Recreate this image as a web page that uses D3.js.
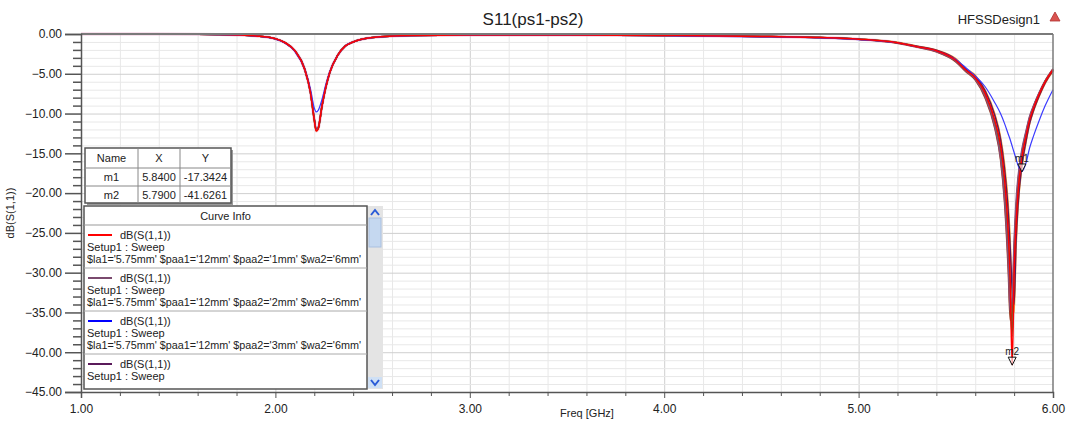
<!DOCTYPE html>
<html>
<head>
  <meta charset="utf-8">
  <script src="https://d3js.org/d3.v7.min.js"></script>
  <style>
    body { margin: 0; background: #fff; }
    text { font-family: "Liberation Sans", Arial, sans-serif; fill: #222; }
  </style>
</head>
<body>
<div id="chart"></div>
<script>

    // frequency points (GHz), shared by all curves
    const freq = [1.0, 1.4, 1.6, 1.7, 1.8, 1.9, 2.0, 2.05, 2.1, 2.15,
        2.18, 2.2, 2.21, 2.22, 2.24, 2.26, 2.28, 2.32, 2.36, 2.4,
        2.5, 2.7, 3.0, 3.5, 4.0, 4.5, 4.8, 5.0, 5.2, 5.3,
        5.4, 5.5, 5.55, 5.6, 5.65, 5.7, 5.73, 5.75, 5.77, 5.78,
        5.79, 5.8, 5.81, 5.82, 5.84, 5.86, 5.88, 5.9, 5.93, 5.96, 6.0]

    // dB(S(1,1)) for each paa2 value
    const sRed = [0, -0.01, -0.03, -0.06, -0.12, -0.25, -0.6, -1.1, -2.1, -4.4,
        -7.3, -10.8, -12.2, -11.9, -9.0, -6.6, -4.8, -2.7, -1.5, -1.0,
        -0.45, -0.2, -0.12, -0.12, -0.18, -0.3, -0.45, -0.65, -1.1, -1.6,
        -2.1, -3.3, -4.5, -5.5, -7.4, -10.8, -14, -18, -25, -31,
        -41.6, -30, -24, -20, -15.5, -13, -10.8, -9.3, -7.5, -6.0, -4.5]
    const sMauve = [0, -0.01, -0.03, -0.06, -0.12, -0.25, -0.6, -1.1, -2.1, -4.4,
        -7.3, -10.7, -12.1, -11.8, -9.0, -6.6, -4.8, -2.7, -1.5, -1.0,
        -0.45, -0.2, -0.12, -0.12, -0.18, -0.3, -0.45, -0.66, -1.1, -1.6,
        -2.2, -3.4, -4.6, -5.7, -7.8, -11.6, -15.5, -20.5, -29, -35,
        -33, -26, -21, -18, -14.5, -12.3, -10.3, -9.0, -7.3, -5.9, -4.4]
    const sBlue = [0, -0.01, -0.04, -0.07, -0.13, -0.27, -0.65, -1.15, -2.2, -4.4,
        -6.9, -9.3, -9.8, -9.6, -8.2, -6.3, -4.7, -2.7, -1.5, -1.0,
        -0.45, -0.22, -0.15, -0.15, -0.22, -0.35, -0.5, -0.7, -1.1, -1.6,
        -2.1, -3.2, -4.2, -5.3, -6.6, -8.6, -10.0, -11.2, -12.6, -13.3,
        -14.1, -14.9, -15.7, -16.5, -17.3, -16.3, -14.3, -12.8, -10.8, -9.0, -7.0]
    const sPurple = [0, -0.01, -0.03, -0.06, -0.12, -0.25, -0.6, -1.1, -2.1, -4.3,
        -7.2, -10.6, -12.0, -11.8, -9.0, -6.6, -4.8, -2.7, -1.5, -1.0,
        -0.45, -0.2, -0.12, -0.12, -0.18, -0.3, -0.45, -0.64, -1.1, -1.55,
        -2.05, -3.2, -4.4, -5.3, -7.1, -10.2, -13.2, -16.8, -22.5, -27,
        -32, -34, -26, -21.5, -16.5, -13.6, -11.2, -9.6, -7.7, -6.1, -4.6]
    const sGreen = [0, -0.01, -0.03, -0.06, -0.12, -0.25, -0.6, -1.1, -2.1, -4.4,
        -7.3, -10.8, -12.1, -11.9, -9.0, -6.6, -4.8, -2.7, -1.5, -1.0,
        -0.45, -0.2, -0.12, -0.12, -0.18, -0.3, -0.45, -0.65, -1.1, -1.6,
        -2.15, -3.35, -4.55, -5.6, -7.6, -11.2, -14.8, -19.3, -27, -33,
        -38, -28, -22.5, -19, -15, -12.7, -10.6, -9.1, -7.4, -5.9, -4.5]
    const sOrange = [0, -0.01, -0.03, -0.06, -0.12, -0.25, -0.6, -1.1, -2.1, -4.4,
        -7.3, -10.8, -12.2, -11.9, -9.0, -6.6, -4.8, -2.7, -1.5, -1.0,
        -0.45, -0.2, -0.12, -0.12, -0.18, -0.3, -0.45, -0.63, -1.05, -1.5,
        -2.0, -3.1, -4.3, -5.2, -7.0, -10.0, -12.9, -16.2, -21.5, -26,
        -33, -35, -27, -22, -16.8, -13.8, -11.3, -9.7, -7.8, -6.2, -4.7]
    const sBrown = [0, -0.01, -0.03, -0.06, -0.12, -0.25, -0.6, -1.1, -2.1, -4.4,
        -7.3, -10.7, -12.1, -11.9, -9.0, -6.6, -4.8, -2.7, -1.5, -1.0,
        -0.45, -0.2, -0.12, -0.12, -0.18, -0.3, -0.45, -0.67, -1.15, -1.65,
        -2.25, -3.5, -4.7, -5.8, -8.0, -11.8, -15.8, -21, -30, -36,
        -35, -27, -22, -18.5, -14.8, -12.5, -10.5, -9.1, -7.4, -5.9, -4.4]
    const sPink = [0, -0.01, -0.03, -0.06, -0.12, -0.25, -0.6, -1.1, -2.1, -4.4,
        -7.3, -10.8, -12.2, -11.9, -9.0, -6.6, -4.8, -2.7, -1.5, -1.0,
        -0.45, -0.2, -0.12, -0.12, -0.18, -0.3, -0.45, -0.65, -1.1, -1.6,
        -2.15, -3.35, -4.55, -5.55, -7.5, -10.9, -14.3, -18.5, -25.5, -32,
        -37, -31, -24, -20, -15.6, -13.1, -10.8, -9.3, -7.5, -6.0, -4.5]

    const curves = [
        { name: 'pink', values: sPink, color: '#e8aacb', width: 3 },
        { name: 'orange', values: sOrange, color: '#f09a30', width: 1.5 },
        { name: 'brown', values: sBrown, color: '#9a3a1e', width: 1.5 },
        { name: 'green', values: sGreen, color: '#2e8b3a', width: 1.5 },
        { name: 'purple', values: sPurple, color: '#5c1a5c', width: 1.5 },
        { name: 'mauve', values: sMauve, color: '#8a4d79', width: 1.5 },
        { name: 'blue', values: sBlue, color: '#3b3bff', width: 1.2 },
        { name: 'red', values: sRed, color: '#ff0000', width: 1.5 }
    ]

    const xTicks = [1, 2, 3, 4, 5, 6]
    const yTicks = [0, -5, -10, -15, -20, -25, -30, -35, -40, -45]

    // marker table
    const markerRows = [
        ['Name', 'X', 'Y'],
        ['m1', '5.8400', '-17.3424'],
        ['m2', '5.7900', '-41.6261']
    ]
    const markers = [
        { name: 'm1', f: 5.84, db: -17.3424 },
        { name: 'm2', f: 5.79, db: -41.6261 }
    ]

    // curve info entries
    const legendColors = ['#ff0000', '#7a4a6e', '#0000ff', '#5a1a5a']
    const legendParams = [
        "$la1='5.75mm' $paa1='12mm' $paa2='1mm' $wa2='6mm'",
        "$la1='5.75mm' $paa1='12mm' $paa2='2mm' $wa2='6mm'",
        "$la1='5.75mm' $paa1='12mm' $paa2='3mm' $wa2='6mm'",
        null
    ]

    const width = 1068,
        height = 427
    const margin = { top: 34, right: 15, bottom: 35, left: 81 }
    const innerWidth = width - margin.left - margin.right,
        innerHeight = height - margin.top - margin.bottom

    const xScale = d3.scaleLinear().domain([1, 6]).range([0, innerWidth])
    const yScale = d3.scaleLinear().domain([0, -45]).range([0, innerHeight])

    const svg = d3.select('#chart').append('svg')
        .attr('width', width)
        .attr('height', height)

    const g = svg.append('g')
        .attr('transform', `translate(${margin.left}, ${margin.top})`)

    // grid
    g.append('g')
        .call(d3.axisTop(xScale).tickValues(d3.range(1.2, 6, 0.2)).tickSize(-innerHeight).tickFormat(''))
        .call(s => s.select('.domain').remove())
        .call(s => s.selectAll('text').remove())
        .selectAll('line').attr('stroke', d => Math.abs(d - Math.round(d)) < 0.01 ? '#cfcfcf' : '#e8e8e8')
    g.append('g')
        .call(d3.axisLeft(yScale).tickValues(d3.range(-1, -45, -1)).tickSize(-innerWidth).tickFormat(''))
        .call(s => s.select('.domain').remove())
        .call(s => s.selectAll('text').remove())
        .selectAll('line').attr('stroke', d => d % 5 === 0 ? '#cfcfcf' : '#e8e8e8')

    // curves
    const line = d3.line()
        .x((d, i) => xScale(freq[i]))
        .y(d => yScale(d))
        .curve(d3.curveMonotoneX)

    g.append('g')
        .selectAll('path')
        .data(curves).enter()
        .append('path')
        .attr('d', d => line(d.values))
        .attr('fill', 'none')
        .attr('stroke', d => d.color)
        .attr('stroke-width', d => d.width)
        .attr('stroke-opacity', d => d.name === 'pink' ? 0.7 : 1)
        .attr('stroke-linejoin', 'round')

    // frame
    g.append('line').attr('x1', 0).attr('x2', innerWidth).attr('y1', 0).attr('y2', 0)
        .attr('stroke', '#7a7a7a').attr('stroke-width', 2)
    g.append('line').attr('x1', innerWidth).attr('x2', innerWidth).attr('y1', 0).attr('y2', innerHeight)
        .attr('stroke', '#7a7a7a').attr('stroke-width', 1.5)

    // y axis
    const yAxis = g.append('g')
        .call(d3.axisLeft(yScale).tickValues(yTicks).tickSize(16).tickPadding(3).tickFormat(d3.format('.2f')))
    yAxis.select('.domain').attr('stroke', '#555').attr('stroke-width', 1.5)
    yAxis.selectAll('.tick line').attr('stroke', '#555').attr('stroke-width', 1.5)
    yAxis.selectAll('text').attr('font-size', 12).attr('fill', '#333')
        .style('font-family', '"Liberation Sans", Arial, sans-serif')
    g.append('g')
        .call(d3.axisLeft(yScale).tickValues(d3.range(-1, -45, -1).filter(d => d % 5 !== 0)).tickSize(8).tickFormat(''))
        .call(s => s.select('.domain').remove())
        .call(s => s.selectAll('text').remove())
        .selectAll('line').attr('stroke', '#555').attr('stroke-width', 1.5)

    // x axis
    const xAxis = g.append('g')
        .attr('transform', `translate(0, ${innerHeight})`)
        .call(d3.axisBottom(xScale).tickValues(xTicks).tickSize(6).tickPadding(6).tickFormat(d3.format('.2f')))
    xAxis.select('.domain').attr('stroke', '#555').attr('stroke-width', 1.5)
    xAxis.selectAll('.tick line').attr('stroke', '#555')
    xAxis.selectAll('text').attr('font-size', 12).attr('fill', '#333')
        .style('font-family', '"Liberation Sans", Arial, sans-serif')
    g.append('g')
        .attr('transform', `translate(0, ${innerHeight})`)
        .call(d3.axisBottom(xScale).tickValues(d3.range(1.2, 6, 0.2).filter(d => Math.abs(d - Math.round(d)) > 0.01)).tickSize(4).tickFormat(''))
        .call(s => s.select('.domain').remove())
        .call(s => s.selectAll('text').remove())
        .selectAll('line').attr('stroke', '#555')

    // axis labels and titles
    svg.append('text')
        .attr('x', margin.left + xScale(3.5) + 20).attr('y', 417)
        .attr('text-anchor', 'middle').attr('font-size', 11)
        .text('Freq [GHz]')
    svg.append('text')
        .attr('transform', `translate(14, ${margin.top + innerHeight / 2}) rotate(-90)`)
        .attr('text-anchor', 'middle').attr('font-size', 11)
        .text('dB(S(1,1))')
    svg.append('text')
        .attr('x', 533).attr('y', 25)
        .attr('text-anchor', 'middle').attr('font-size', 17)
        .text('S11(ps1-ps2)')
    svg.append('text')
        .attr('x', 1040).attr('y', 24)
        .attr('text-anchor', 'end').attr('font-size', 13)
        .text('HFSSDesign1')
    svg.append('path')
        .attr('d', 'M1055,12 L1060,21 L1050,21 Z')
        .attr('fill', '#d9534f').attr('stroke', '#b03030').attr('stroke-width', 0.8)

    // markers
    markers.forEach(m => {
        const mx = xScale(m.f), my = yScale(m.db)
        g.append('path')
            .attr('d', `M${mx},${my} L${mx - 4},${my - 8} L${mx + 4},${my - 8} Z`)
            .attr('fill', 'white').attr('fill-opacity', 0.6)
            .attr('stroke', '#111').attr('stroke-width', 1)
        g.append('text')
            .attr('x', mx).attr('y', my - 10)
            .attr('text-anchor', 'middle').attr('font-size', 10)
            .text(m.name)
    })

    // marker table
    const tbl = svg.append('g').attr('transform', 'translate(85, 148)')
    const colX = [0, 53, 95, 146]
    const rowH = [0, 20, 38, 55]
    tbl.append('rect').attr('x', 2).attr('y', 2).attr('width', 146).attr('height', 55).attr('fill', '#9a9a9a')
    tbl.append('rect').attr('width', 146).attr('height', 55).attr('fill', 'white')
        .attr('stroke', '#555').attr('stroke-width', 1.5)
    colX.slice(1, 3).forEach(cx => tbl.append('line').attr('x1', cx).attr('x2', cx).attr('y1', 0).attr('y2', 55).attr('stroke', '#888'))
    rowH.slice(1, 3).forEach(ry => tbl.append('line').attr('x1', 0).attr('x2', 146).attr('y1', ry).attr('y2', ry).attr('stroke', '#888'))
    markerRows.forEach((row, r) => {
        row.forEach((cell, c) => {
            tbl.append('text')
                .attr('x', (colX[c] + colX[c + 1]) / 2)
                .attr('y', (rowH[r] + rowH[r + 1]) / 2 + 4)
                .attr('text-anchor', 'middle').attr('font-size', 11)
                .text(cell)
        })
    })

    // curve info box
    const info = svg.append('g').attr('transform', 'translate(84, 206)')
    const boxW = 283, boxH = 183
    info.append('rect').attr('x', boxW).attr('y', 0).attr('width', 16).attr('height', boxH).attr('fill', '#e4e4e4')
    info.append('rect').attr('x', boxW + 2).attr('y', 12).attr('width', 12).attr('height', 29).attr('fill', '#c5d8f0').attr('stroke', '#a9c0e0')
    info.append('path').attr('d', `M${boxW + 4},9 L${boxW + 8},4 L${boxW + 12},9`)
        .attr('fill', 'none').attr('stroke', '#2a5bd7').attr('stroke-width', 2)
    info.append('rect').attr('x', boxW + 1).attr('y', boxH - 12).attr('width', 14).attr('height', 11).attr('fill', '#cfe0f5')
    info.append('path').attr('d', `M${boxW + 4},${boxH - 9} L${boxW + 8},${boxH - 4} L${boxW + 12},${boxH - 9}`)
        .attr('fill', 'none').attr('stroke', '#2a5bd7').attr('stroke-width', 2)
    info.append('rect').attr('width', boxW).attr('height', boxH).attr('fill', 'white')
        .attr('stroke', '#555').attr('stroke-width', 1.5)
    info.append('line').attr('x1', 0).attr('x2', boxW).attr('y1', 19).attr('y2', 19).attr('stroke', '#999')
    info.append('text').attr('x', boxW / 2).attr('y', 14).attr('text-anchor', 'middle').attr('font-size', 11)
        .text('Curve Info')

    legendColors.forEach((c, i) => {
        const top = 19 + i * 43
        const e = info.append('g').attr('transform', `translate(0, ${top})`)
        if (i > 0) e.append('line').attr('x1', 0).attr('x2', boxW).attr('y1', 0).attr('y2', 0).attr('stroke', '#aaa')
        e.append('line').attr('x1', 4).attr('x2', 28).attr('y1', 10).attr('y2', 10)
            .attr('stroke', c).attr('stroke-width', 2)
        e.append('text').attr('x', 36).attr('y', 14).attr('font-size', 11).text('dB(S(1,1))')
        e.append('text').attr('x', 3).attr('y', 26).attr('font-size', 11).text('Setup1 : Sweep')
        if (legendParams[i]) e.append('text').attr('x', 3).attr('y', 38).attr('font-size', 10.8).text(legendParams[i])
    })

</script>
</body>
</html>
